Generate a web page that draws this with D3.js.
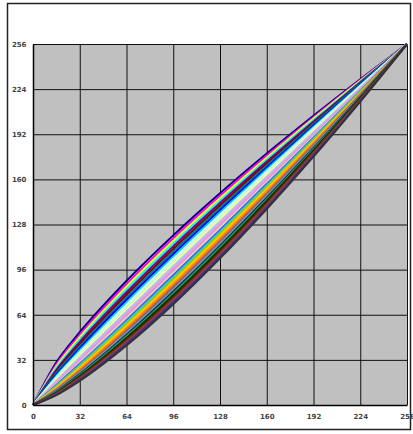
<!DOCTYPE html>
<html>
<head>
<meta charset="utf-8">
<script src="https://cdn.jsdelivr.net/npm/d3@7"></script>
<style>
    body { margin: 0; background: #fff; }
    svg { display: block; }
</style>
</head>
<body>
<div id="chart"></div>
<script>
// x positions where each curve was read
const xSamples = [0, 16, 32, 64, 96, 128, 160, 192, 224, 256];

// one row per series (top curve first)
const curveValues = [
    [0, 30.3, 51.6, 88.0, 120.3, 150.1, 178.3, 205.1, 231.0, 256],
    [0, 28.9, 49.8, 85.9, 118.3, 148.4, 176.9, 204.1, 230.5, 256],
    [0, 27.5, 48.1, 83.9, 116.3, 146.6, 175.4, 203.1, 229.9, 256],
    [0, 26.3, 46.4, 82.0, 114.4, 144.9, 174.0, 202.1, 229.4, 256],
    [0, 25.0, 44.8, 80.0, 112.5, 143.2, 172.6, 201.1, 228.9, 256],
    [0, 23.9, 43.2, 78.2, 110.6, 141.5, 171.3, 200.1, 228.4, 256],
    [0, 22.8, 41.7, 76.3, 108.8, 139.8, 169.9, 199.2, 227.9, 256],
    [0, 21.7, 40.2, 74.6, 107.0, 138.2, 168.5, 198.2, 227.3, 256],
    [0, 20.7, 38.8, 72.8, 105.2, 136.6, 167.2, 197.2, 226.8, 256],
    [0, 19.8, 37.5, 71.1, 103.5, 134.9, 165.8, 196.2, 226.3, 256],
    [0, 18.8, 36.2, 69.4, 101.7, 133.4, 164.5, 195.3, 225.8, 256],
    [0, 18.0, 34.9, 67.8, 100.0, 131.8, 163.2, 194.3, 225.3, 256],
    [0, 17.1, 33.7, 66.2, 98.4, 130.2, 161.9, 193.4, 224.8, 256],
    [0, 16.3, 32.5, 64.7, 96.7, 128.7, 160.6, 192.4, 224.2, 256],
    [0, 15.6, 31.4, 63.2, 95.1, 127.2, 159.3, 191.5, 223.7, 256],
    [0, 14.9, 30.3, 61.7, 93.6, 125.7, 158.0, 190.5, 223.2, 256],
    [0, 14.2, 29.2, 60.2, 92.0, 124.2, 156.8, 189.6, 222.7, 256],
    [0, 13.5, 28.2, 58.8, 90.5, 122.7, 155.5, 188.7, 222.2, 256],
    [0, 12.9, 27.2, 57.4, 89.0, 121.3, 154.3, 187.7, 221.7, 256],
    [0, 12.3, 26.3, 56.1, 87.5, 119.9, 153.0, 186.8, 221.2, 256],
    [0, 11.7, 25.3, 54.8, 86.0, 118.5, 151.8, 185.9, 220.7, 256],
    [0, 11.2, 24.5, 53.5, 84.6, 117.1, 150.6, 185.0, 220.2, 256],
    [0, 10.7, 23.6, 52.2, 83.2, 115.7, 149.4, 184.1, 219.7, 256],
    [0, 10.2, 22.8, 51.0, 81.8, 114.3, 148.2, 183.2, 219.2, 256],
    [0, 9.7, 22.0, 49.8, 80.5, 113.0, 147.0, 182.3, 218.7, 256],
    [0, 9.3, 21.2, 48.7, 79.1, 111.7, 145.8, 181.4, 218.2, 256],
    [0, 8.8, 20.5, 47.5, 77.8, 110.3, 144.7, 180.5, 217.7, 256],
    [0, 8.4, 19.8, 46.4, 76.5, 109.0, 143.5, 179.6, 217.2, 256],
    [0, 8.0, 19.1, 45.3, 75.2, 107.8, 142.4, 178.7, 216.7, 256],
    [0, 7.7, 18.4, 44.3, 74.0, 106.5, 141.2, 177.8, 216.2, 256],
    [0, 7.3, 17.8, 43.2, 72.8, 105.2, 140.1, 177.0, 215.7, 256],
    [0, 7.0, 17.1, 42.2, 71.5, 104.0, 139.0, 176.1, 215.2, 256]
];

// old office chart line colours, in series order
const seriesColors = [
    "#000080", "#FF00FF", "#FFFF00", "#00FFFF", "#800080", "#800000", "#008080", "#0000FF",
    "#00CCFF", "#CCFFFF", "#CCFFCC", "#FFFF99", "#99CCFF", "#FF99CC", "#CC99FF", "#FFCC99",
    "#3366FF", "#33CCCC", "#99CC00", "#FFCC00", "#FF9900", "#FF6600", "#666699", "#969696",
    "#003366", "#339966", "#003300", "#333300", "#993300", "#993366", "#333399", "#333333"
];

const tickValues = [0, 32, 64, 96, 128, 160, 192, 224, 256];

const W = 413, H = 434;
const plot = { left: 33, right: 407, top: 44, bottom: 405 };

const svg = d3.select("#chart").append("svg")
    .attr("width", W)
    .attr("height", H);

// outer frame
svg.append("rect")
    .attr("x", 7.5).attr("y", 3.5)
    .attr("width", 403).attr("height", 426)
    .attr("fill", "#fff")
    .attr("stroke", "#222")
    .attr("stroke-width", 1.5);

const x = d3.scaleLinear().domain([0, 256]).range([plot.left, plot.right]);
const y = d3.scaleLinear().domain([0, 256]).range([plot.bottom, plot.top]);

// plot area
svg.append("rect")
    .attr("x", plot.left).attr("y", plot.top)
    .attr("width", plot.right - plot.left)
    .attr("height", plot.bottom - plot.top)
    .attr("fill", "#C0C0C0");

// gridlines
svg.append("g")
    .attr("class", "grid")
    .attr("transform", `translate(0,${plot.bottom})`)
    .call(d3.axisBottom(x).tickValues(tickValues).tickSize(-(plot.bottom - plot.top)).tickFormat(""))
    .call(g => g.select(".domain").remove());

svg.append("g")
    .attr("class", "grid")
    .attr("transform", `translate(${plot.left},0)`)
    .call(d3.axisLeft(y).tickValues(tickValues).tickSize(-(plot.right - plot.left)).tickFormat(""))
    .call(g => g.select(".domain").remove());

svg.selectAll(".grid line")
    .attr("stroke", "#111")
    .attr("stroke-width", 1);

// curves
const line = d3.line()
    .x((d, i) => x(xSamples[i]))
    .y(d => y(d))
    .curve(d3.curveMonotoneX);

svg.append("g")
    .selectAll("path")
    .data(curveValues)
    .enter()
    .append("path")
    .attr("d", d => line(d))
    .attr("fill", "none")
    .attr("stroke", (d, i) => seriesColors[i % seriesColors.length])
    .attr("stroke-width", 2);

// axes with labels
const xAxis = svg.append("g")
    .attr("transform", `translate(0,${plot.bottom})`)
    .call(d3.axisBottom(x).tickValues(tickValues).tickSize(0).tickPadding(9.5));

const yAxis = svg.append("g")
    .attr("transform", `translate(${plot.left},0)`)
    .call(d3.axisLeft(y).tickValues(tickValues).tickSize(0).tickPadding(6.5));

[xAxis, yAxis].forEach(a => {
    a.select(".domain").attr("stroke", "#000").attr("stroke-width", 1.5);
    a.selectAll("text")
        .attr("fill", "#444")
        .style("font-family", "'DejaVu Sans', sans-serif")
        .style("font-size", "7px")
        .style("font-weight", "bold");
});
</script>
</body>
</html>
